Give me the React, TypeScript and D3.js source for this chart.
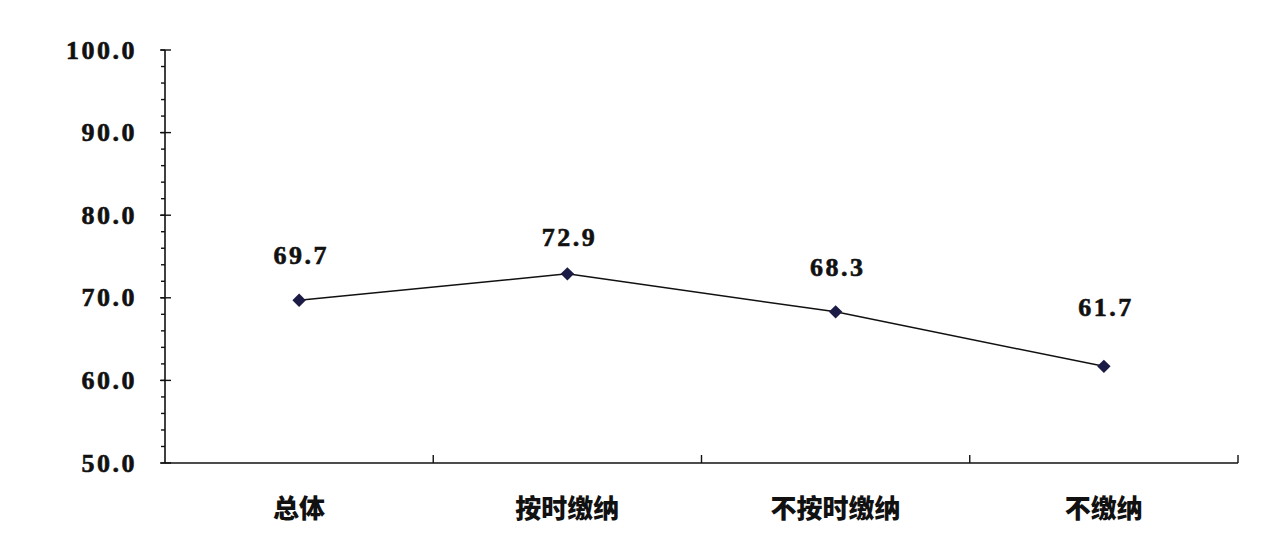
import { useMemo } from "react";
import * as d3 from "d3";

const categories = ["总体", "按时缴纳", "不按时缴纳", "不缴纳"];
const values = [69.7, 72.9, 68.3, 61.7];
const yMajorTicks = [50, 60, 70, 80, 90, 100];
const yMinorTicks = d3.range(50, 100.01, 2);
// how far each value label sits above its marker
const labelLift = [45, 36, 44, 59];

const width = 1286;
const height = 536;
const margin = { left: 165, right: 48, top: 50, bottom: 73 };

const numFont = "'Liberation Serif', 'DejaVu Serif', serif";
const cjkFont = "'Noto Sans CJK SC', 'Noto Sans', sans-serif";

export default function App() {
  const x = useMemo(
    () =>
      d3
        .scaleBand<string>()
        .domain(categories)
        .range([margin.left, width - margin.right])
        .padding(0),
    []
  );
  const y = useMemo(
    () =>
      d3
        .scaleLinear()
        .domain([50, 100])
        .range([height - margin.bottom, margin.top]),
    []
  );

  const line = d3
    .line<number>()
    .x((_, i) => (x(categories[i]) ?? 0) + x.bandwidth() / 2)
    .y((d) => y(d));

  const x0 = margin.left;
  const x1 = width - margin.right;
  const yBase = y(50);
  const boundaries = categories.map((c) => (x(c) ?? 0) + x.bandwidth());

  return (
    <div style={{ position: "absolute", left: 0, top: 0 }}>
      <svg width={width} height={height} style={{ display: "block", background: "#ffffff" }}>
        {/* y axis */}
        <line x1={x0} x2={x0} y1={y(100)} y2={yBase} stroke="#111" strokeWidth={1.6} />
        {yMinorTicks.map((t) => (
          <line key={"m" + t} x1={x0 - 4} x2={x0} y1={y(t)} y2={y(t)} stroke="#111" strokeWidth={1.4} />
        ))}
        {yMajorTicks.map((t) => (
          <g key={"M" + t}>
            <line x1={x0 - 5} x2={x0 + 6} y1={y(t)} y2={y(t)} stroke="#111" strokeWidth={1.4} />
            <text
              x={137}
              y={y(t)}
              textAnchor="end"
              dominantBaseline="central"
              fontFamily={numFont}
              fontWeight="bold"
              fontSize={26}
              letterSpacing={2.5}
              stroke="#111"
              strokeWidth={0.6}
              fill="#111"
            >
              {t.toFixed(1)}
            </text>
          </g>
        ))}

        {/* x axis */}
        <line x1={x0} x2={x1} y1={yBase} y2={yBase} stroke="#111" strokeWidth={1.6} />
        {boundaries.map((b, i) => (
          <line key={"b" + i} x1={b} x2={b} y1={yBase} y2={yBase - 8} stroke="#111" strokeWidth={1.4} />
        ))}
        {categories.map((c) => (
          <text
            key={c}
            x={(x(c) ?? 0) + x.bandwidth() / 2}
            y={506}
            textAnchor="middle"
            dominantBaseline="central"
            fontFamily={cjkFont}
            fontWeight={900}
            fontSize={26}
            fill="#111"
          >
            {c}
          </text>
        ))}

        {/* series */}
        <path d={line(values) ?? ""} fill="none" stroke="#111" strokeWidth={1.5} />
        {values.map((v, i) => {
          const cx = (x(categories[i]) ?? 0) + x.bandwidth() / 2;
          const cy = y(v);
          return (
            <g key={"p" + i}>
              <path
                d={d3.symbol(d3.symbolDiamond2, 115)() ?? ""}
                transform={`translate(${cx},${cy})`}
                fill="#1b1b45"
              />
              <text
                x={cx + 2}
                y={cy - labelLift[i]}
                textAnchor="middle"
                dominantBaseline="central"
                fontFamily={numFont}
                fontWeight="bold"
                fontSize={26}
                letterSpacing={2.5}
                stroke="#111"
                strokeWidth={0.6}
                fill="#111"
              >
                {v.toFixed(1)}
              </text>
            </g>
          );
        })}
      </svg>
    </div>
  );
}
